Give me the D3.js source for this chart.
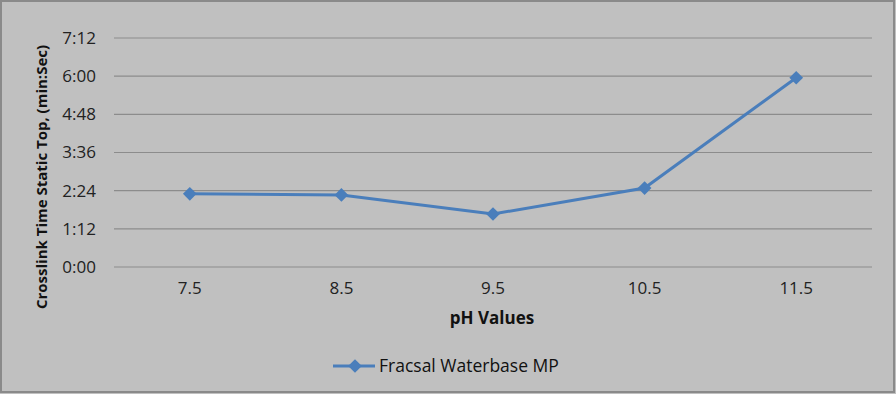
<html>
<head>
<meta charset="utf-8">
<title>Crosslink time</title>
<script src="https://d3js.org/d3.v7.min.js"></script>
<style>
  body { margin: 0; background: #c0c0c0; }
  svg { display: block; font-family: "Open Sans", "Noto Sans", sans-serif; }
</style>
</head>
<body>
<svg width="896" height="394"></svg>
<script>
// pH categories and crosslink times in seconds
const phValues = ["7.5", "8.5", "9.5", "10.5", "11.5"];
const crosslinkSeconds = [138, 136, 100, 149, 357];
const yTicks = [0, 72, 144, 216, 288, 360, 432];
const seriesName = "Fracsal Waterbase MP";

const svg = d3.select("svg");
const lineColor = "#4a7ebb";

// frame
svg.append("rect").attr("x", 1).attr("y", 1).attr("width", 893).attr("height", 391)
  .attr("fill", "#c0c0c0").attr("stroke", "#8a8a8a").attr("stroke-width", 2);

const x = d3.scaleBand().domain(phValues).range([114, 872]);
const y = d3.scaleLinear().domain([0, 432]).range([267, 38]);

const fmt = s => Math.floor(s / 60) + ":" + String(s % 60).padStart(2, "0");

// gridlines
svg.append("g").selectAll("line").data(yTicks).enter().append("line")
  .attr("x1", 114).attr("x2", 872)
  .attr("y1", d => y(d)).attr("y2", d => y(d))
  .attr("stroke", "#8c8c8c").attr("stroke-width", 1.2);

// y axis labels
const yAxis = svg.append("g").attr("transform", "translate(100,0)")
  .call(d3.axisLeft(y).tickValues(yTicks).tickFormat(fmt).tickSize(0).tickPadding(4));
yAxis.select(".domain").remove();
yAxis.selectAll("text").attr("font-size", 17).attr("fill", "#222")
  .attr("font-family", "'Open Sans', sans-serif");

// x axis labels
const xAxis = svg.append("g").attr("transform", "translate(0,276)")
  .call(d3.axisBottom(x).tickSize(0).tickPadding(6));
xAxis.select(".domain").remove();
xAxis.selectAll("text").attr("font-size", 17).attr("fill", "#222")
  .attr("font-family", "'Open Sans', sans-serif");

// axis titles
svg.append("text").attr("x", 492).attr("y", 324).attr("text-anchor", "middle")
  .attr("font-size", 17).attr("font-weight", "bold").attr("fill", "#111").text("pH Values");
svg.append("text").attr("transform", "translate(47,177) rotate(-90)").attr("text-anchor", "middle")
  .attr("font-size", 15).attr("font-weight", "bold").attr("fill", "#111")
  .text("Crosslink Time Static Top, (min:Sec)");

// series
const pts = phValues.map((p, i) => [x(p) + x.bandwidth() / 2, y(crosslinkSeconds[i])]);
svg.append("path").attr("d", d3.line()(pts)).attr("fill", "none")
  .attr("stroke", lineColor).attr("stroke-width", 3);
const diamond = d3.symbol().type(d3.symbolDiamond2).size(120);
svg.append("g").selectAll("path").data(pts).enter().append("path")
  .attr("transform", d => "translate(" + d[0] + "," + d[1] + ")")
  .attr("d", diamond).attr("fill", lineColor);

// legend
const lg = svg.append("g").attr("transform", "translate(333,366)");
lg.append("line").attr("x1", 0).attr("x2", 42).attr("stroke", lineColor).attr("stroke-width", 3);
lg.append("path").attr("transform", "translate(22,0)").attr("d", diamond).attr("fill", lineColor);
lg.append("text").attr("x", 46).attr("y", 6).attr("font-size", 17.5).attr("fill", "#111").text(seriesName);
</script>
</body>
</html>
